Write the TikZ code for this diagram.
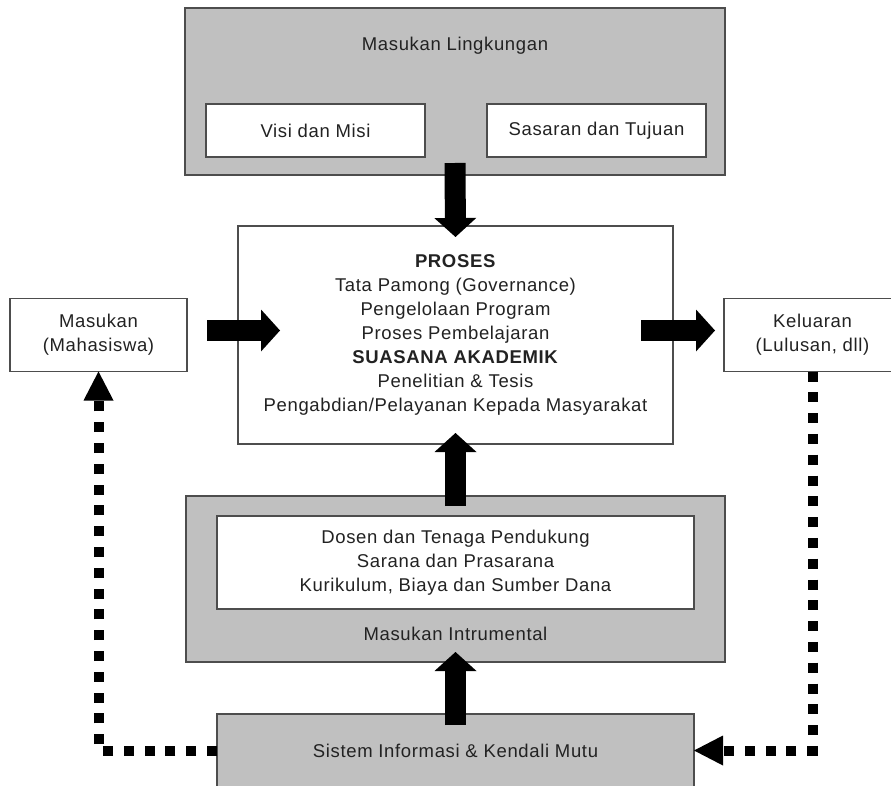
\documentclass[tikz,border=0pt]{standalone}
\usepackage{fontspec}
\setmainfont{Liberation Sans}[LetterSpace=3.5]
\usetikzlibrary{arrows.meta,calc}
\definecolor{boxgray}{HTML}{C0C0C0}
\definecolor{edgegray}{HTML}{4D4D4D}
\definecolor{ink}{HTML}{222222}
\newcommand{\txtfont}{\fontsize{18.5}{24}\selectfont}
\tikzset{
  basebox/.style={draw=edgegray, line width=1.2pt, inner sep=0pt, outer sep=0pt,
    text=ink, font=\txtfont, align=center},
  graybox/.style={basebox, fill=boxgray},
  whitebox/.style={basebox, fill=white},
  txtlabel/.style={text=ink, font=\txtfont, align=center, inner sep=0pt},
  bigarrow/.style={line width=21pt, draw=black,
    -{Triangle[width=42pt,length=19pt,line width=0pt]}},
  dotline/.style={line width=10pt, draw=black, dash pattern=on 10pt off 10.8pt,
    -{Triangle[width=30pt,length=29pt,line width=0pt]}},
}
\begin{document}
\begin{tikzpicture}[x=1pt,y=-1pt]
\useasboundingbox (0,0) rectangle (891,786);
\fill[white] (0,0) rectangle (891,786);
\clip (0,0) rectangle (891,786);

% top group
\node[graybox, minimum width=540pt, minimum height=167pt] (top) at (455,91.5) {};
\node[txtlabel] (toptitle) at (455,46) {Masukan Lingkungan};
\node[whitebox, minimum width=219pt, minimum height=53pt] (visi) at (315.5,130.5) {Visi dan Misi};
\node[whitebox, minimum width=219pt, minimum height=53pt] (sasaran) at (596.5,130.5) {Sasaran dan Tujuan};

% process
\node[whitebox, minimum width=435pt, minimum height=218pt] (proses) at (455.5,335)
  {\textbf{PROSES}\\Tata Pamong (Governance)\\Pengelolaan Program\\Proses Pembelajaran\\
   \textbf{SUASANA AKADEMIK}\\Penelitian \& Tesis\\Pengabdian/Pelayanan Kepada Masyarakat};

% input / output
\node[whitebox, minimum width=177pt, minimum height=73pt] (mas) at (98.5,335) {Masukan\\(Mahasiswa)};
\node[whitebox, minimum width=177pt, minimum height=73pt] (kel) at (812.5,335) {Keluaran\\(Lulusan, dll)};

% instrumental
\node[graybox, minimum width=539pt, minimum height=166pt] (instr) at (455.5,579) {};
\node[whitebox, minimum width=477pt, minimum height=93pt] (inner) at (455.5,562.5)
  {Dosen dan Tenaga Pendukung\\Sarana dan Prasarana\\Kurikulum, Biaya dan Sumber Dana};
\node[txtlabel] (instrlabel) at (455.5,634) {Masukan Intrumental};

% system
\node[graybox, minimum width=477pt, minimum height=73pt] (sistem) at (455.5,750.5) {Sistem Informasi \& Kendali Mutu};

% big arrows
\draw[bigarrow] ([yshift=12pt]top.south) -- ([yshift=-11pt]proses.north);
\draw[bigarrow] ([xshift=20pt,yshift=4.5pt]mas.east) -- ([xshift=42pt,yshift=4.5pt]proses.west);
\draw[bigarrow] ([xshift=-32pt,yshift=4.5pt]proses.east) -- ([xshift=-9pt,yshift=4.5pt]kel.west);
\draw[bigarrow] ([yshift=-10pt]instr.north) -- ([yshift=11pt]proses.south);
\draw[bigarrow] ([yshift=-11pt]sistem.north) -- ([yshift=10pt]instr.south);

% feedback dotted arrows
\draw[dotline] (sistem.west) -| (mas.south);
\draw[dotline] (kel.south) |- (sistem.east);
\end{tikzpicture}
\end{document}
